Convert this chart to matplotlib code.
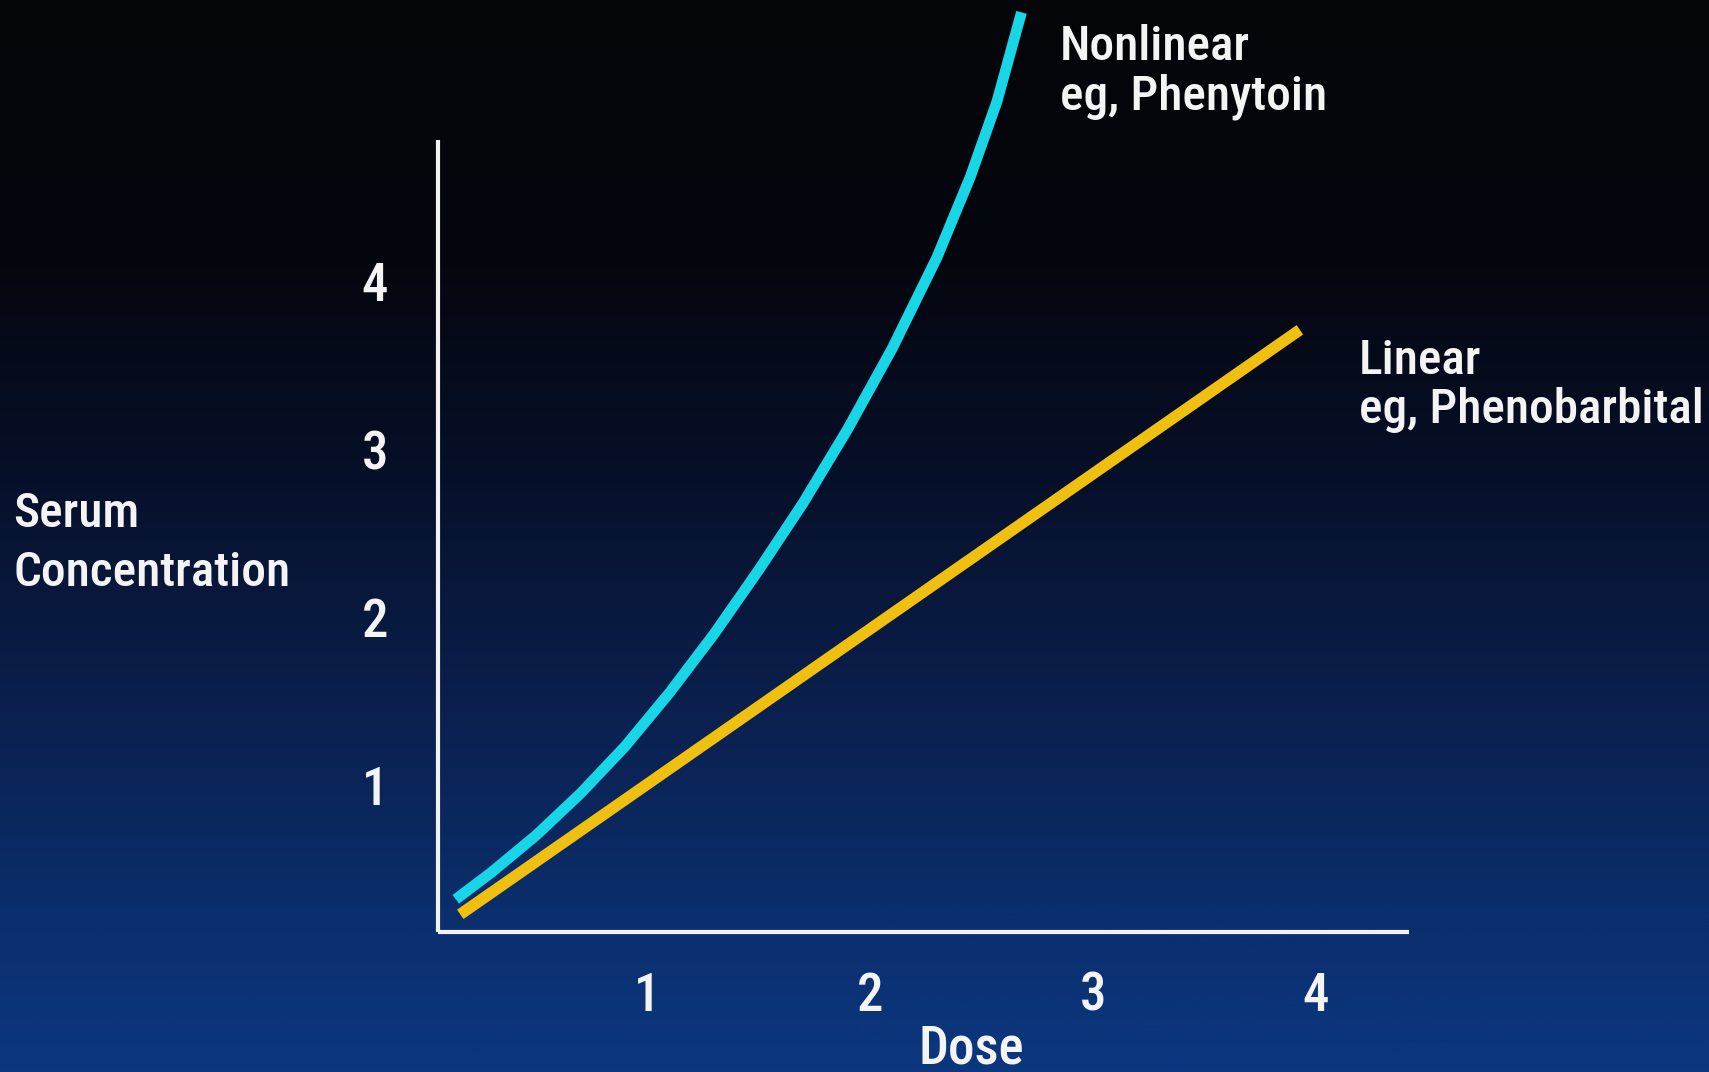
import numpy as np
import matplotlib
matplotlib.use("Agg")
import matplotlib.pyplot as plt
from matplotlib.colors import LinearSegmentedColormap

# ---- data ----
nonlinear_dose = [0.14, 0.30, 0.50, 0.70, 0.90, 1.10, 1.30, 1.50, 1.70, 1.90,
                  2.10, 2.30, 2.45, 2.57, 2.68]
nonlinear_conc = [0.32, 0.48, 0.70, 0.95, 1.23, 1.55, 1.90, 2.28, 2.68, 3.12,
                  3.60, 4.14, 4.62, 5.07, 5.60]
linear_dose = [0.16, 3.93]
linear_conc = [0.23, 3.71]
x_ticks = [1, 2, 3, 4]
x_tick_labels = ["1", "2", "3", "4"]
y_ticks = [1, 2, 3, 4]
y_tick_labels = ["1", "2", "3", "4"]

W, H = 1709, 1072
DPI = 100
FONT = ["Roboto Condensed", "Archivo Narrow", "Liberation Sans Narrow",
        "IBM Plex Sans Condensed", "Liberation Sans", "DejaVu Sans"]
plt.rcParams["font.family"] = FONT
WEIGHT = "medium"

fig = plt.figure(figsize=(W / DPI, H / DPI), dpi=DPI)

# gradient background
bg = fig.add_axes([0, 0, 1, 1], zorder=-10)
cmap = LinearSegmentedColormap.from_list(
    "bg",
    [(0.0, "#040509"), (0.25, "#05070f"), (0.45, "#07102a"),
     (0.65, "#0a1f4c"), (0.85, "#0b2e6c"), (1.0, "#0b377f")])
grad = np.linspace(0, 1, 512).reshape(-1, 1)
bg.imshow(grad, aspect="auto", cmap=cmap, extent=[0, 1, 0, 1], origin="upper")
bg.axis("off")

def fx(px):
    return px / W

def fy(py):
    return 1 - py / H

# main axes: spines placed where the reference axis lines are
left, right, top, bottom = 438, 1409, 140, 932
ax = fig.add_axes([fx(left), fy(bottom), (right - left) / W, (bottom - top) / H])
ax.patch.set_alpha(0)
ax.set_xlim(0.06, 4.42)
ax.set_ylim(0.125, 4.84)

for s in ["top", "right"]:
    ax.spines[s].set_visible(False)
for s in ["left", "bottom"]:
    ax.spines[s].set_color("#f2f2f2")
    ax.spines[s].set_linewidth(3.0)
    ax.spines[s].set_capstyle("butt")

ax.plot(nonlinear_dose, nonlinear_conc, color="#18d6e6", lw=7.8,
        solid_capstyle="butt", solid_joinstyle="round", clip_on=False, zorder=3)
ax.plot(linear_dose, linear_conc, color="#f0c010", lw=8.2,
        solid_capstyle="butt", clip_on=False, zorder=4)

ax.set_xticks(x_ticks)
ax.set_xticklabels(x_tick_labels, fontweight=WEIGHT)
ax.set_yticks(y_ticks)
ax.set_yticklabels(y_tick_labels, fontweight=WEIGHT)
ax.tick_params(axis="both", length=0, colors="#f4f4f4", labelsize=38)
ax.tick_params(axis="x", pad=28)
ax.tick_params(axis="y", pad=36)

txt = dict(color="#f4f4f4", fontsize=35.5, family=FONT, fontweight=WEIGHT)
fig.text(fx(13), fy(527), "Serum", ha="left", va="baseline", **txt)
fig.text(fx(13), fy(586), "Concentration", ha="left", va="baseline", **txt)
fig.text(fx(1060), fy(60), "Nonlinear", ha="left", va="baseline", **txt)
fig.text(fx(1060), fy(109), "eg, Phenytoin", ha="left", va="baseline", **txt)
fig.text(fx(1359), fy(374), "Linear", ha="left", va="baseline", **txt)
fig.text(fx(1359), fy(423), "eg, Phenobarbital", ha="left", va="baseline", **txt)
fig.text(fx(971), fy(1063), "Dose", ha="center", va="baseline",
         color="#f4f4f4", fontsize=38, family=FONT, fontweight=WEIGHT)

fig.savefig("out.png", dpi=DPI)
